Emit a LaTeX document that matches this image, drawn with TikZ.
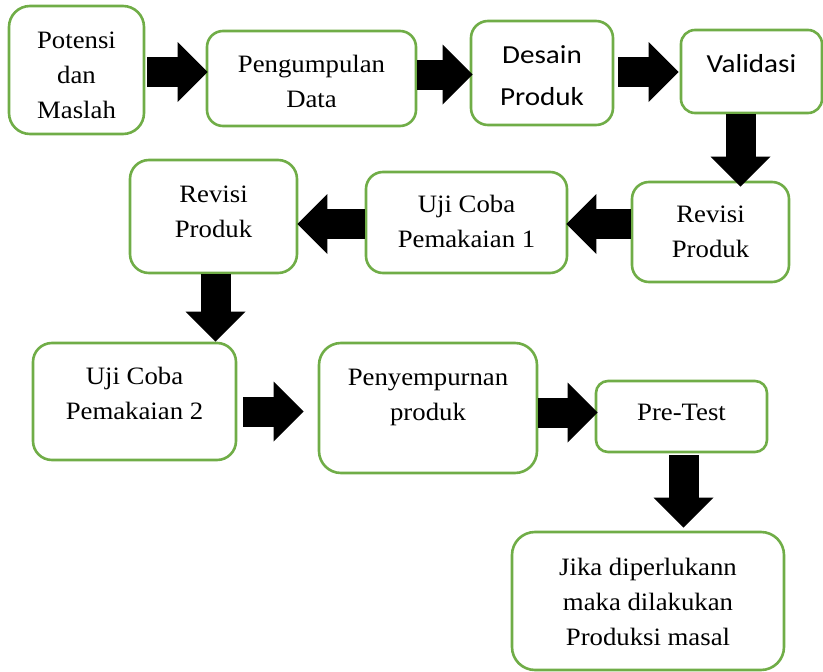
\documentclass[tikz,border=0pt]{standalone}
\usepackage{fontspec}
\setmainfont{Liberation Serif}[FakeStretch=1.07]
\newfontfamily\calfont{Carlito}[FakeStretch=1.12]
\usetikzlibrary{arrows.meta,calc}
\definecolor{boxgreen}{RGB}{112,173,71}
\begin{document}
\begin{tikzpicture}[x=1pt,y=-1pt,
  box/.style={draw=boxgreen, line width=2.6pt, inner sep=0pt, fill=white},
  txt/.style={inner sep=0pt, align=center, anchor=base, font=\fontsize{25}{35}\selectfont},
  ctxt/.style={inner sep=0pt, align=center, anchor=base, font=\calfont\fontsize{26}{42}\selectfont},
  blk/.style={draw=black, line width=30pt, -{Triangle[width=60pt,length=30pt,line width=0pt]}}]
\useasboundingbox (0,0) rectangle (823,672);
% boxes
\node[box, rounded corners=21pt, minimum width=135pt, minimum height=128pt] (pot)  at (76.5,70) {};
\node[box, rounded corners=16pt, minimum width=209pt, minimum height=95pt]  (peng) at (311.5,78.5) {};
\node[box, rounded corners=17pt, minimum width=142pt, minimum height=104pt] (des)  at (542,73) {};
\node[box, rounded corners=14pt, minimum width=141pt, minimum height=83pt]  (val)  at (751.5,71.5) {};
\node[box, rounded corners=17pt, minimum width=157pt, minimum height=100pt] (rev1) at (710.5,232) {};
\node[box, rounded corners=17pt, minimum width=201pt, minimum height=101pt] (uji1) at (466.5,222.5) {};
\node[box, rounded corners=19pt, minimum width=167pt, minimum height=113pt] (rev2) at (213.5,216.5) {};
\node[box, rounded corners=19pt, minimum width=203pt, minimum height=117pt] (uji2) at (134.5,401.5) {};
\node[box, rounded corners=22pt, minimum width=218pt, minimum height=130pt] (peny) at (428,408) {};
\node[box, rounded corners=12pt, minimum width=171pt, minimum height=71pt]  (pre)  at (681.5,416.5) {};
\node[box, rounded corners=23pt, minimum width=272pt, minimum height=138pt] (jika) at (648,601) {};
% texts (anchored at the baseline of the last line)
\node[txt] (tpot)  at (76.5,118)  {Potensi\\dan\\Maslah};
\node[txt] (tpeng) at (311.5,107) {Pengumpulan\\Data};
\node[ctxt] (tdes) at (542,105)   {Desain\\Produk};
\node[ctxt] (tval) at (751.5,72)  {Validasi};
\node[txt] (trev1) at (710.5,257) {Revisi\\Produk};
\node[txt] (tuji1) at (466.5,247) {Uji Coba\\Pemakaian 1};
\node[txt] (trev2) at (213.5,237) {Revisi\\Produk};
\node[txt] (tuji2) at (134.5,419) {Uji Coba\\Pemakaian 2};
\node[txt] (tpeny) at (428,420)   {Penyempurnan\\produk};
\node[txt] (tpre)  at (681.5,420) {Pre-Test};
\node[txt] (tjika) at (648,645)   {Jika diperlukann\\maka dilakukan\\Produksi masal};
% block arrows
\draw[blk] ($(pot.east |- 0,72)+(2,0)$) -- ($(peng.west |- 0,72)+(2,0)$);
\draw[blk] (peng.east |- 0,74.5) -- ($(des.west |- 0,74.5)+(3,0)$);
\draw[blk] ($(des.east |- 0,72)+(4,0)$) -- ($(val.west |- 0,72)+(-1,0)$);
\draw[blk] (val.south -| 740.5,0) -- ($(rev1.north -| 740.5,0)+(0,6)$);
\draw[blk] (rev1.west |- 0,224) -- ($(uji1.east |- 0,224)+(-2,0)$);
\draw[blk] (uji1.west |- 0,224) -- ($(rev2.east |- 0,224)+(-1,0)$);
\draw[blk] (rev2.south -| 215.5,0) -- (uji2.north -| 215.5,0);
\draw[blk] ($(uji2.east |- 0,411.5)+(6,0)$) -- ($(peny.west |- 0,411.5)+(-14,0)$);
\draw[blk] (peny.east |- 0,412.5) -- ($(pre.west |- 0,412.5)+(3,0)$);
\draw[blk] ($(pre.south -| 683.5,0)+(0,2)$) -- ($(jika.north -| 683.5,0)+(0,-3)$);
\end{tikzpicture}
\end{document}
